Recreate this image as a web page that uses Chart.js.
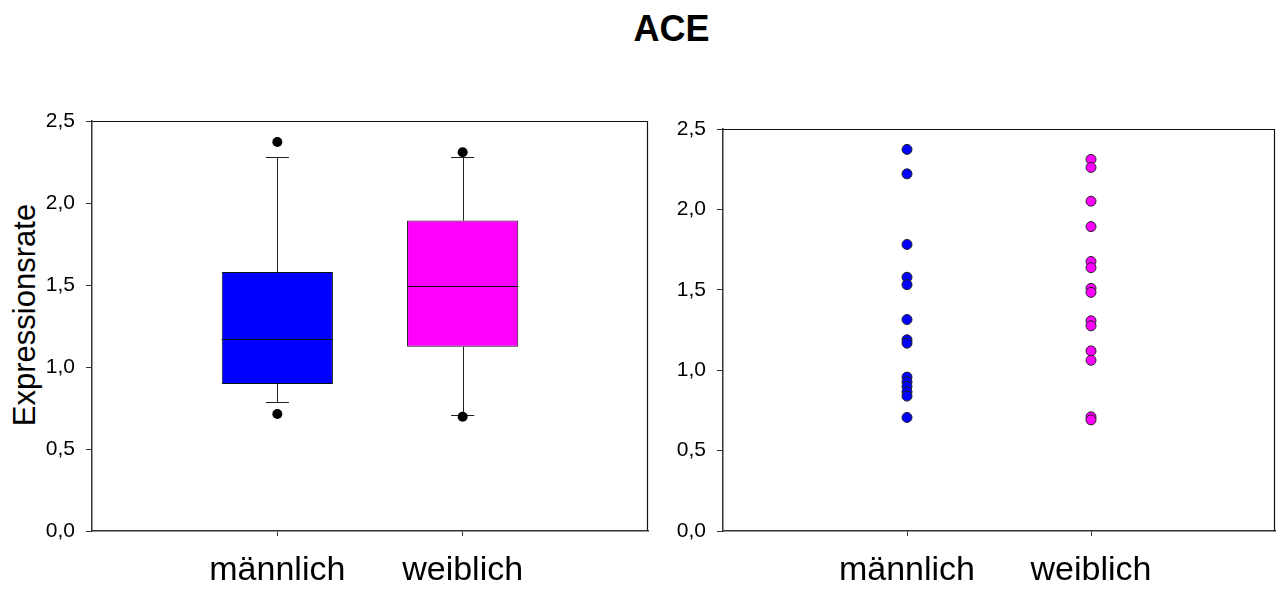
<!DOCTYPE html>
<html lang="de">
<head>
<meta charset="utf-8">
<title>ACE</title>
<script src="https://cdn.jsdelivr.net/npm/chart.js@4/dist/chart.umd.min.js"></script>
<style>
  html, body { margin: 0; padding: 0; background: #fff; }
  body { width: 1281px; height: 590px; position: relative; overflow: hidden;
         font-family: "Liberation Sans", Arial, sans-serif; }
  #title { position: absolute; left: 671.5px; top: 11px; transform: translateX(-50%);
           font-weight: bold; font-size: 36px; line-height: 36px; color: #000; white-space: nowrap; }
  #ylabel { position: absolute; left: 24px; top: 315px; transform: translate(-50%, -50%) rotate(-90deg);
            font-size: 31px; line-height: 31px; color: #000; white-space: nowrap; }
  .panel { position: absolute; top: 60px; height: 530px; }
  #boxWrap { left: 0; width: 660px; }
  #dotWrap { left: 660px; width: 621px; }
</style>
</head>
<body>
<div id="title">ACE</div>
<div id="ylabel">Expressionsrate</div>
<div class="panel" id="boxWrap"><canvas id="boxChart" width="660" height="530"></canvas></div>
<div class="panel" id="dotWrap"><canvas id="dotChart" width="621" height="530"></canvas></div>

<script>
// Groups and their position on the x axis
const categories = ['männlich', 'weiblich'];
const categoryPos = [1, 2];
const groupColors = ['#0000ff', '#ff00ff'];

// Individual expression rates per group
const maleValues = [2.373, 2.221, 1.782, 1.578, 1.532, 1.315, 1.189, 1.168, 0.957, 0.928, 0.899, 0.866, 0.839, 0.706];
const femaleValues = [2.311, 2.261, 2.051, 1.893, 1.676, 1.638, 1.509, 1.484, 1.307, 1.276, 1.120, 1.062, 0.710, 0.691];

// Box plot summary per group (10th / 25th / 50th / 75th / 90th percentile)
const whiskerLow = [0.789, 0.707];
const quartile1 = [0.897, 1.123];
const medians = [1.170, 1.491];
const quartile3 = [1.579, 1.893];
const whiskerHigh = [2.280, 2.280];

// Values outside the whiskers
const outlierGroup = [1, 1, 2, 2];
const outlierValues = [2.372, 0.713, 2.309, 0.697];

// y axis ticks
const yTicks = [0, 0.5, 1.0, 1.5, 2.0, 2.5];

const FONT = '"Liberation Sans", Arial, sans-serif';
const AXIS_COLOR = '#333';

function decimalComma(v) { return Number(v).toFixed(1).replace('.', ','); }

function xScaleOptions() {
  return {
    type: 'linear',
    min: 0, max: 3,
    offset: false,
    afterBuildTicks: (s) => { s.ticks = categoryPos.map(v => ({ value: v })); },
    afterFit: (s) => { s.height = 59; },
    ticks: {
      callback: (v) => categories[categoryPos.indexOf(v)],
      color: '#000',
      font: { family: FONT, size: 34 },
      padding: 14,
      maxRotation: 0, autoSkip: false
    },
    grid: { display: true, drawOnChartArea: false, drawTicks: true, tickLength: 5, color: AXIS_COLOR, offset: false },
    border: { display: true, color: AXIS_COLOR, width: 1.5 }
  };
}

function yScaleOptions(width) {
  return {
    type: 'linear',
    min: 0, max: 2.5,
    afterBuildTicks: (s) => { s.ticks = yTicks.map(v => ({ value: v })); },
    afterFit: (s) => { s.width = width; },
    ticks: {
      callback: (v) => decimalComma(v),
      color: '#000',
      font: { family: FONT, size: 21 },
      padding: 11
    },
    grid: { display: true, drawOnChartArea: false, drawTicks: true, tickLength: 6, color: AXIS_COLOR },
    border: { display: true, color: AXIS_COLOR, width: 1.5 }
  };
}

// Top and right edges of the plotting frame
const framePlugin = {
  id: 'frame',
  afterDraw(chart) {
    const { ctx, chartArea: a } = chart;
    ctx.save();
    ctx.strokeStyle = '#111';
    ctx.lineWidth = 1.2;
    ctx.beginPath();
    ctx.moveTo(a.left, Math.round(a.top) + 0.5);
    ctx.lineTo(Math.round(a.right) - 0.5, Math.round(a.top) + 0.5);
    ctx.lineTo(Math.round(a.right) - 0.5, a.bottom);
    ctx.stroke();
    ctx.restore();
  }
};

// Whiskers, caps and median lines of the box plot
const boxPlotPlugin = {
  id: 'boxParts',
  beforeDatasetsDraw(chart) {
    const { ctx } = chart;
    const xs = chart.scales.x, ys = chart.scales.y;
    const capHalf = 0.0625;
    ctx.save();
    ctx.strokeStyle = '#222';
    ctx.lineWidth = 1;
    categoryPos.forEach((pos, i) => {
      const cx = Math.round(xs.getPixelForValue(pos)) + 0.5;
      const cl = xs.getPixelForValue(pos - capHalf), cr = xs.getPixelForValue(pos + capHalf);
      const yLo = Math.round(ys.getPixelForValue(whiskerLow[i])) + 0.5;
      const yHi = Math.round(ys.getPixelForValue(whiskerHigh[i])) + 0.5;
      ctx.beginPath();
      ctx.moveTo(cx, yLo); ctx.lineTo(cx, ys.getPixelForValue(quartile1[i]));
      ctx.moveTo(cx, ys.getPixelForValue(quartile3[i])); ctx.lineTo(cx, yHi);
      ctx.moveTo(cl, yLo); ctx.lineTo(cr, yLo);
      ctx.moveTo(cl, yHi); ctx.lineTo(cr, yHi);
      ctx.stroke();
    });
    ctx.restore();
  },
  afterDatasetDraw(chart, args) {
    if (args.index !== 0) return;
    const { ctx } = chart;
    const ys = chart.scales.y;
    const bars = chart.getDatasetMeta(0).data;
    ctx.save();
    ctx.strokeStyle = '#111';
    ctx.lineWidth = 1;
    bars.forEach((bar, i) => {
      const y = Math.round(ys.getPixelForValue(medians[i])) + 0.5;
      ctx.beginPath();
      ctx.moveTo(bar.x - bar.width / 2, y);
      ctx.lineTo(bar.x + bar.width / 2, y);
      ctx.stroke();
    });
    ctx.restore();
  }
};

new Chart(document.getElementById('boxChart'), {
  type: 'bar',
  data: {
    datasets: [
      {
        type: 'bar',
        data: categoryPos.map((p, i) => ({ x: p, y: [quartile1[i], quartile3[i]] })),
        backgroundColor: groupColors,
        borderColor: '#111',
        borderWidth: 1,
        borderSkipped: false,
        categoryPercentage: 1,
        barPercentage: 0.6,
        order: 2
      },
      {
        type: 'scatter',
        data: outlierValues.map((v, i) => ({ x: outlierGroup[i], y: v })),
        backgroundColor: '#000',
        borderColor: '#000',
        borderWidth: 0,
        pointRadius: 5,
        showLine: false,
        order: 1
      }
    ]
  },
  options: {
    responsive: false,
    animation: false,
    layout: { padding: { top: 61, right: 12, left: 0, bottom: 0 } },
    plugins: { legend: { display: false }, tooltip: { enabled: false }, title: { display: false } },
    scales: { x: xScaleOptions(), y: yScaleOptions(92) }
  },
  plugins: [boxPlotPlugin, framePlugin]
});

new Chart(document.getElementById('dotChart'), {
  type: 'scatter',
  data: {
    datasets: [maleValues, femaleValues].map((vals, g) => ({
      data: vals.map(v => ({ x: categoryPos[g], y: v })),
      backgroundColor: groupColors[g],
      borderColor: '#222',
      borderWidth: 1,
      pointRadius: 5
    }))
  },
  options: {
    responsive: false,
    animation: false,
    layout: { padding: { top: 69, right: 1, left: 0, bottom: 0 } },
    plugins: { legend: { display: false }, tooltip: { enabled: false }, title: { display: false } },
    scales: { x: xScaleOptions(), y: yScaleOptions(63) }
  },
  plugins: [framePlugin]
});
</script>
</body>
</html>
